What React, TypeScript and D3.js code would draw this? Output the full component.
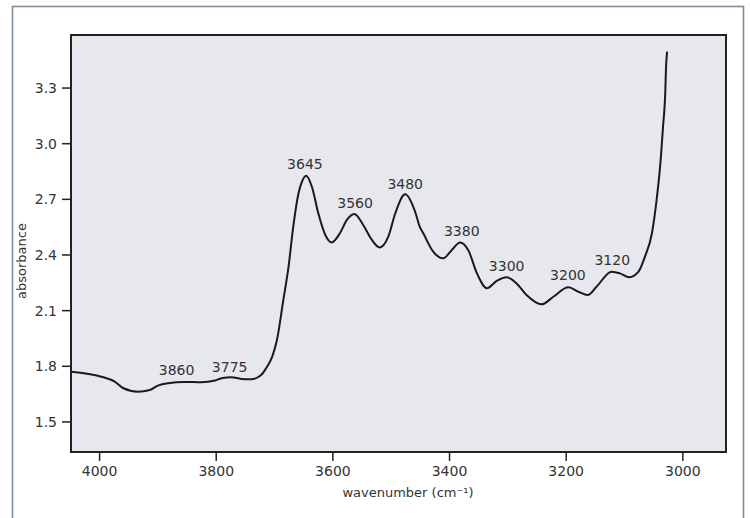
import React from "react";
import * as d3 from "d3";

const wavenumbers = [4049, 3997, 3974, 3960, 3934, 3914, 3900, 3883, 3854, 3826, 3802, 3791, 3774, 3757, 3740, 3723, 3715, 3704, 3696, 3685, 3676, 3668, 3659, 3653, 3646, 3636, 3625, 3613, 3602, 3588, 3576, 3563, 3548, 3533, 3520, 3505, 3493, 3476, 3459, 3451, 3445, 3428, 3411, 3396, 3382, 3368, 3353, 3336, 3319, 3302, 3285, 3268, 3242, 3222, 3196, 3179, 3163, 3148, 3122, 3108, 3092, 3076, 3065, 3053, 3045, 3039, 3034, 3030, 3029, 3027];
const absorbance = [1.771, 1.744, 1.717, 1.683, 1.663, 1.672, 1.696, 1.709, 1.716, 1.714, 1.723, 1.736, 1.741, 1.732, 1.730, 1.753, 1.787, 1.852, 1.940, 2.157, 2.337, 2.552, 2.732, 2.795, 2.827, 2.768, 2.625, 2.508, 2.468, 2.517, 2.589, 2.621, 2.562, 2.481, 2.441, 2.499, 2.625, 2.727, 2.633, 2.552, 2.517, 2.418, 2.382, 2.427, 2.468, 2.427, 2.301, 2.221, 2.261, 2.280, 2.247, 2.184, 2.134, 2.175, 2.226, 2.202, 2.184, 2.229, 2.310, 2.301, 2.280, 2.310, 2.391, 2.517, 2.696, 2.876, 3.091, 3.289, 3.397, 3.496];

const xTicks = [4000, 3800, 3600, 3400, 3200, 3000];
const yTicks = [1.5, 1.8, 2.1, 2.4, 2.7, 3.0, 3.3];

const peakLabels = ["3860", "3775", "3645", "3560", "3480", "3380", "3300", "3200", "3120"];
const peakLabelWn = [3868, 3777, 3648, 3562, 3476, 3379, 3302, 3197, 3121];
const peakLabelAbs = [1.755, 1.771, 2.862, 2.655, 2.754, 2.502, 2.315, 2.265, 2.346];

export default function App() {
  const left = 71, right = 726, top = 35, bottom = 452;
  const x = d3.scaleLinear().domain([4049, 2926]).range([left, right]);
  const y = d3.scaleLinear().domain([1.338, 3.586]).range([bottom, top]);
  const pts = wavenumbers.map((w, i) => [w, absorbance[i]] as [number, number]);
  const line = d3
    .line<[number, number]>()
    .x((d) => x(d[0]))
    .y((d) => y(d[1]))
    .curve(d3.curveMonotoneX);
  const font = "'DejaVu Sans', sans-serif";
  const textColor = "#333";
  return (
    <svg
      width={750}
      height={518}
      style={{ position: "absolute", left: 0, top: 0, display: "block" }}
      fontFamily={font}
    >
      <rect x={0} y={0} width={750} height={518} fill="#fff" />
      <rect x={12.5} y={6.5} width={731} height={540} fill="none" stroke="#7d8d9c" strokeWidth={1.6} />
      <rect x={left} y={top} width={right - left} height={bottom - top} fill="#e6e8ed" stroke="#222" strokeWidth={2} />
      {yTicks.map((t) => (
        <g key={"y" + t}>
          <line x1={left - 9} x2={left} y1={y(t)} y2={y(t)} stroke="#222" strokeWidth={1.5} />
          <text x={left - 14} y={y(t)} dy="0.36em" textAnchor="end" fontSize={14} fill={textColor}>
            {t.toFixed(1)}
          </text>
        </g>
      ))}
      {xTicks.map((t) => (
        <g key={"x" + t}>
          <line x1={x(t)} x2={x(t)} y1={bottom} y2={bottom + 9} stroke="#222" strokeWidth={1.5} />
          <text x={x(t)} y={bottom + 24} textAnchor="middle" fontSize={14} fill={textColor}>
            {t}
          </text>
        </g>
      ))}
      <path d={line(pts) || ""} fill="none" stroke="#1a1a1a" strokeWidth={2} strokeLinejoin="round" />
      {peakLabels.map((lab, i) => (
        <text key={lab} x={x(peakLabelWn[i])} y={y(peakLabelAbs[i])} textAnchor="middle" fontSize={14} fill={textColor}>
          {lab}
        </text>
      ))}
      <text x={408} y={497} textAnchor="middle" fontSize={13} fill={textColor}>
        wavenumber (cm⁻¹)
      </text>
      <text transform="translate(26,261) rotate(-90)" textAnchor="middle" fontSize={13} fill={textColor}>
        absorbance
      </text>
    </svg>
  );
}
